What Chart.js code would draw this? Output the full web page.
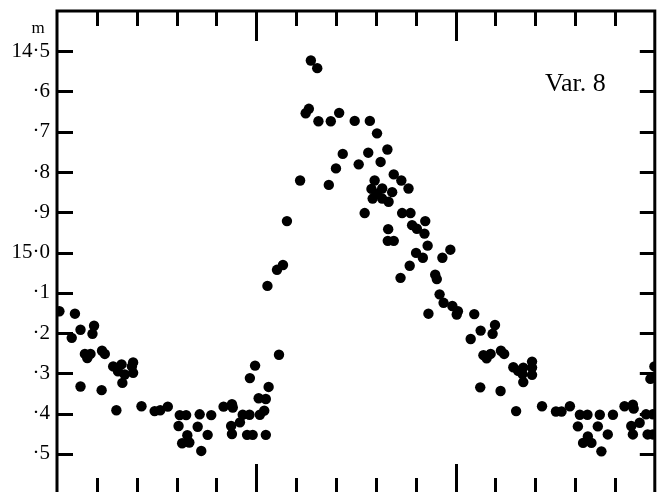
<!DOCTYPE html>
<html>
<head>
<meta charset="utf-8">
<script src="https://cdn.jsdelivr.net/npm/chart.js@4/dist/chart.umd.min.js"></script>
<style>
  html, body { margin: 0; padding: 0; background: #fff; overflow: hidden; }
  #wrap { width: 660px; height: 492px; overflow: hidden; position: relative; }
  canvas { display: block; }
</style>
</head>
<body>
<div id="wrap"><canvas id="c" width="660" height="500"></canvas></div>
<script>
const phase = [
  -0.494,-0.455,-0.463,-0.441,-0.407,-0.411,-0.430,-0.424,-0.416,-0.441,
  -0.387,-0.380,-0.388,-0.359,-0.347,-0.338,-0.330,-0.312,-0.309,-0.309,
  -0.336,-0.351,-0.288,-0.255,-0.241,-0.222,-0.192,-0.176,-0.195,-0.186,
  -0.168,-0.173,-0.142,-0.147,-0.122,-0.138,-0.113,-0.082,-0.061,-0.059,
  -0.034,-0.017,0.009,0.020,-0.041,-0.063,-0.061,-0.023,-0.009,0.024,
  0.057,-0.003,-0.016,0.031,0.006,0.024,0.028,0.052,0.067,0.077,
  0.110,0.137,0.153,0.132,0.124,0.156,0.187,0.208,0.247,0.285,
  0.303,0.217,0.281,0.329,0.257,0.312,0.200,0.182,0.297,0.345,
  0.364,0.382,0.289,0.316,0.341,0.303,0.292,0.316,0.332,0.272,
  0.366,0.387,0.331,0.330,0.345,0.391,0.403,0.422,0.424,0.430,
  0.401,0.418,0.385,0.362,0.449,0.453,0.460,0.432,0.487,0.467,
  0.470,0.492,0.506,0.503,0.547,0.563,0.599,0.538,0.593,0.570,
  0.578,0.588,0.614,0.622,0.562,0.613,0.645,0.657,0.670,0.668,
  0.692,0.692,0.692,0.670,0.652,0.717,0.752,0.766,0.787,0.812,
  0.831,0.862,0.895,0.924,0.945,0.947,0.978,0.995,0.807,0.857,
  0.941,0.962,0.820,0.832,0.841,0.882,0.945,0.982,0.995,0.866,
  0.989,0.999
];
const mag = [
  15.146,15.152,15.212,15.192,15.182,15.202,15.252,15.262,15.252,15.333,
  15.244,15.252,15.342,15.283,15.295,15.278,15.303,15.283,15.273,15.299,
  15.324,15.392,15.382,15.394,15.392,15.383,15.404,15.404,15.431,15.474,
  15.472,15.454,15.402,15.433,15.453,15.493,15.404,15.383,15.377,15.385,
  15.403,15.403,15.403,15.393,15.422,15.431,15.451,15.453,15.453,15.453,
  15.254,15.281,15.312,15.334,15.362,15.364,15.083,15.043,15.031,14.922,
  14.821,14.523,14.542,14.643,14.654,14.674,14.674,14.653,14.673,14.673,
  14.704,14.755,14.752,14.744,14.781,14.775,14.791,14.832,14.821,14.806,
  14.821,14.841,14.842,14.841,14.850,14.854,14.866,14.866,14.874,14.902,
  14.902,14.902,14.942,14.971,14.971,14.932,14.941,14.953,14.922,14.983,
  15.001,15.013,15.033,15.063,15.055,15.066,15.104,15.152,14.993,15.013,
  15.125,15.133,15.146,15.154,15.153,15.194,15.180,15.215,15.202,15.255,
  15.263,15.252,15.244,15.252,15.335,15.344,15.285,15.294,15.286,15.302,
  15.271,15.286,15.304,15.322,15.394,15.382,15.395,15.395,15.382,15.403,
  15.403,15.403,15.403,15.382,15.378,15.388,15.402,15.402,15.432,15.432,
  15.431,15.423,15.473,15.457,15.473,15.452,15.452,15.452,15.452,15.494,
  15.314,15.283
];
const yTickValues = [14.5,14.6,14.7,14.8,14.9,15.0,15.1,15.2,15.3,15.4,15.5];
const yTickLabels = ['14·5','·6','·7','·8','·9','15·0','·1','·2','·3','·4','·5'];
const xTicks = [-0.4,-0.3,-0.2,-0.1,0.0,0.1,0.2,0.3,0.4,0.5,0.6,0.7,0.8,0.9];
const xLongTicks = [0.0, 0.5];
const unitLabel = 'm';
const starLabel = 'Var. 8';

const points = phase.map((p, i) => ({ x: p, y: mag[i] }));

const framePlugin = {
  id: 'frame',
  afterDatasetsDraw(chart) {
    const ctx = chart.ctx;
    const a = chart.chartArea;
    const xs = chart.scales.x, ys = chart.scales.y;
    ctx.save();
    ctx.strokeStyle = '#000';
    ctx.lineWidth = 3;
    ctx.lineCap = 'butt';
    // frame: top, left, right
    ctx.beginPath();
    ctx.moveTo(a.left, a.bottom + 5);
    ctx.lineTo(a.left, a.top);
    ctx.lineTo(a.right, a.top);
    ctx.lineTo(a.right, a.bottom + 5);
    ctx.stroke();
    // x ticks (top and bottom, inward)
    xTicks.forEach(v => {
      const px = Math.round(xs.getPixelForValue(v)) + 0.5;
      const long = xLongTicks.some(t => Math.abs(t - v) < 1e-9);
      ctx.beginPath();
      ctx.moveTo(px, a.top);
      ctx.lineTo(px, a.top + (long ? 30 : 15));
      ctx.moveTo(px, a.bottom);
      ctx.lineTo(px, a.bottom - (long ? 30 : 16));
      ctx.stroke();
    });
    // y ticks (left and right, inward)
    yTickValues.forEach(v => {
      const py = Math.round(ys.getPixelForValue(v)) + 0.5;
      ctx.beginPath();
      ctx.moveTo(a.left, py);
      ctx.lineTo(a.left + 16, py);
      ctx.moveTo(a.right, py);
      ctx.lineTo(a.right - 15, py);
      ctx.stroke();
    });
    // texts
    ctx.fillStyle = '#000';
    ctx.font = '17px "Liberation Serif", serif';
    ctx.textAlign = 'center';
    ctx.textBaseline = 'alphabetic';
    ctx.fillText(unitLabel, 38, 33);
    ctx.font = '26px "Liberation Serif", serif';
    ctx.textAlign = 'left';
    ctx.fillText(starLabel, 545, 91);
    ctx.restore();
  }
};

new Chart(document.getElementById('c'), {
  type: 'scatter',
  data: {
    datasets: [{
      data: points,
      backgroundColor: '#000',
      borderColor: '#000',
      borderWidth: 0,
      pointRadius: 5.2,
      pointHoverRadius: 5.2,
      clip: 0
    }]
  },
  options: {
    responsive: false,
    animation: false,
    events: [],
    layout: { padding: { top: 11, right: 2, bottom: 6, left: 0 } },
    plugins: { legend: { display: false }, tooltip: { enabled: false }, title: { display: false } },
    scales: {
      x: { type: 'linear', min: -0.5, max: 1.0, display: false },
      y: {
        type: 'linear', min: 14.4, max: 15.6, reverse: true,
        afterFit: s => { s.width = 57; s.paddingTop = 0; s.paddingBottom = 0; },
        grid: { display: false, drawTicks: false },
        border: { display: false },
        ticks: {
          stepSize: 0.1, autoSkip: false, padding: 7, color: '#000',
          font: { family: '"Liberation Serif", serif', size: 21 },
          callback: v => {
            const i = yTickValues.findIndex(t => Math.abs(t - v) < 1e-6);
            return i >= 0 ? yTickLabels[i] : '';
          }
        }
      }
    }
  },
  plugins: [framePlugin]
});
</script>
</body>
</html>
